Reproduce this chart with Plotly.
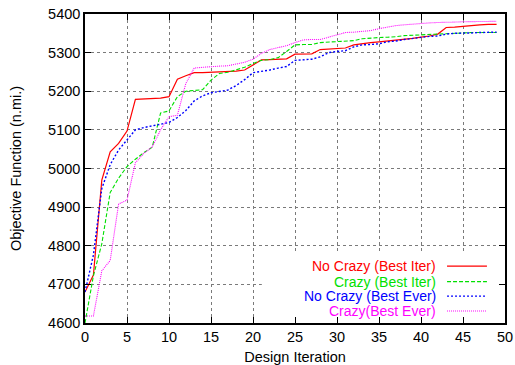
import plotly.graph_objects as go

iterations = list(range(50))

no_crazy_best_iter = [4680, 4724, 4970, 5043, 5065, 5097, 5179, 5180, 5180, 5182,
                      5186, 5231, 5240, 5248, 5248, 5249, 5250, 5251, 5252, 5255,
                      5268, 5281, 5282, 5283, 5284, 5296, 5296, 5297, 5308, 5309,
                      5310, 5312, 5320, 5324, 5326, 5328, 5330, 5332, 5334, 5337,
                      5340, 5343, 5348, 5365, 5366, 5368, 5371, 5372, 5373, 5373]

crazy_best_iter = [4600, 4722, 4805, 4938, 4975, 5005, 5024, 5041, 5055, 5144,
                   5149, 5186, 5200, 5202, 5204, 5229, 5246, 5249, 5255, 5262,
                   5272, 5280, 5282, 5287, 5303, 5320, 5321, 5321, 5326, 5327,
                   5328, 5329, 5331, 5336, 5338, 5339, 5340, 5341, 5344, 5345,
                   5346, 5347, 5348, 5350, 5351, 5351, 5352, 5352, 5352, 5352]

no_crazy_best_ever = [4680, 4776, 4948, 5010, 5048, 5074, 5100, 5106, 5110, 5115,
                      5119, 5132, 5150, 5175, 5188, 5196, 5200, 5203, 5215, 5230,
                      5248, 5251, 5255, 5260, 5264, 5280, 5281, 5283, 5289, 5300,
                      5303, 5305, 5315, 5320, 5321, 5323, 5328, 5330, 5334, 5337,
                      5340, 5342, 5343, 5348, 5350, 5350, 5351, 5352, 5352, 5353]

crazy_best_ever = [4618, 4618, 4735, 4762, 4908, 4918, 5015, 5039, 5056, 5100,
                   5134, 5138, 5220, 5260, 5262, 5264, 5265, 5266, 5270, 5275,
                   5283, 5298, 5308, 5313, 5318, 5326, 5333, 5334, 5334, 5340,
                   5347, 5352, 5353, 5355, 5357, 5362, 5366, 5370, 5372, 5374,
                   5376, 5377, 5378, 5378, 5379, 5380, 5380, 5381, 5381, 5381]

names = ["No Crazy (Best Iter)", "Crazy (Best Iter)", "No Crazy (Best Ever)", "Crazy(Best Ever)"]
series = [no_crazy_best_iter, crazy_best_iter, no_crazy_best_ever, crazy_best_ever]
colors = ["#ff0000", "#00e000", "#0000ff", "#ff00ff"]
dashes = ["solid", "4px,2px", "2px,2px", "1px,1px"]
widths = [1.2, 1.1, 1.4, 1.1]

x_range = [0, 50]
y_range = [4600, 5400]
x_ticks = list(range(0, 51, 5))
y_ticks = list(range(4600, 5401, 100))

FONT = "Liberation Sans, Arial, sans-serif"

fig = go.Figure()

# Opaque legend background (as a trace so it hides gridlines but not axis ticks)
box_x0, box_x1 = 0.421, 0.997   # fractions of plot width
box_y0, box_y1 = 0.004, 0.225   # fractions of plot height
bx = [x_range[0] + f * (x_range[1] - x_range[0]) for f in (box_x0, box_x1, box_x1, box_x0, box_x0)]
by = [y_range[0] + f * (y_range[1] - y_range[0]) for f in (box_y0, box_y0, box_y1, box_y1, box_y0)]
fig.add_trace(go.Scatter(x=bx, y=by, mode="lines", fill="toself", fillcolor="white",
                         line=dict(width=0, color="white"), hoverinfo="skip", showlegend=False))

for name, ys, c, d, w in zip(names, series, colors, dashes, widths):
    fig.add_trace(go.Scatter(x=iterations, y=ys, mode="lines", name=name,
                             line=dict(color=c, dash=d, width=w), showlegend=False))

# Custom legend: right-aligned coloured text with line sample on the right
legend_rows_y = [0.184, 0.134, 0.087, 0.039]
shapes = []
annotations = []
for name, c, d, w, yy in zip(names, colors, dashes, widths, legend_rows_y):
    annotations.append(dict(text=name, xref="paper", yref="paper", x=0.838, y=yy,
                            xanchor="right", yanchor="middle", showarrow=False, borderpad=0,
                            font=dict(family=FONT, size=14, color=c)))
    shapes.append(dict(type="line", xref="paper", yref="paper", x0=0.862, x1=0.957,
                       y0=yy, y1=yy, line=dict(color=c, dash=d, width=w), layer="above"))

axis_common = dict(showline=True, linecolor="black", linewidth=1.5, mirror="ticks",
                   ticks="inside", ticklen=6, tickcolor="black", tickwidth=1,
                   showgrid=True, gridcolor="#7a7a7a", griddash="dot", gridwidth=1,
                   zeroline=False, layer="above traces",
                   tickfont=dict(family=FONT, size=14.5, color="black"))

fig.update_xaxes(range=x_range, tickvals=x_ticks, ticktext=[str(v) for v in x_ticks],
                 title=dict(text="Design Iteration", font=dict(family=FONT, size=14.5, color="black"),
                            standoff=11),
                 **axis_common)
fig.update_yaxes(range=y_range, tickvals=y_ticks, ticktext=[str(v) for v in y_ticks],
                 title=dict(text="Objective Function (n.mi.)", font=dict(family=FONT, size=14.5, color="black"),
                            standoff=23),
                 **axis_common)

fig.update_layout(width=515, height=365, margin=dict(l=85, r=10, t=14, b=42, autoexpand=False),
                  plot_bgcolor="white", paper_bgcolor="white",
                  shapes=shapes, annotations=annotations)

fig.write_html("out.html")
